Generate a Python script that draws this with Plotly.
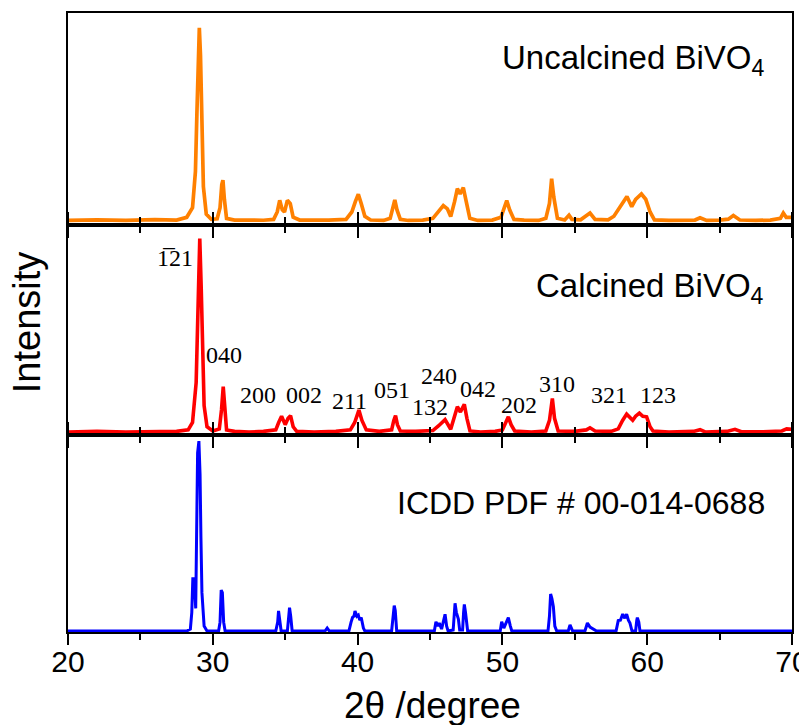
import plotly.graph_objects as go
from plotly.subplots import make_subplots

# 2theta (degree) / intensity (% of panel height)
uncalc_x = [20.0, 22.0, 24.0, 26.0, 27.5, 28.2, 28.6, 28.8, 28.9, 29.0, 29.07, 29.15, 29.25, 29.35, 29.55, 29.9,
            30.3, 30.5, 30.62, 30.7, 30.8, 30.95, 31.5, 32.5, 33.5, 34.2, 34.45, 34.62, 34.8, 34.95, 35.15, 35.35,
            35.55, 36.0, 37.0, 38.0, 39.2, 39.6, 39.85, 40.05, 40.25, 40.5, 40.9, 41.8, 42.25, 42.45, 42.57, 42.72,
            42.95, 43.5, 44.5, 45.2, 45.6, 45.92, 46.2, 46.43, 46.7, 46.89, 47.08, 47.3, 47.5, 47.75, 48.3, 49.3,
            49.9, 50.15, 50.3, 50.5, 50.8, 51.5, 52.5, 53.0, 53.25, 53.4, 53.55, 53.8, 54.3, 54.6, 54.8, 55.4,
            56.05, 56.4, 57.3, 57.7, 58.2, 58.6, 58.93, 59.2, 59.6, 59.9, 60.2, 60.5, 61.5, 62.5, 63.3, 63.65,
            64.1, 65.0, 65.6, 65.95, 66.4, 67.5, 68.5, 69.2, 69.4, 69.6, 70.0]
uncalc_y = [2.0, 2.3, 2.0, 2.4, 2.2, 3.5, 8, 25, 52, 85, 93, 80, 45, 18, 5, 2.5,
            2.8, 8, 19, 21, 12, 3, 2.2, 2.0, 2.1, 2.5, 6, 11.5, 7, 6, 11.5, 10,
            3.5, 2.2, 2.0, 2.2, 2.5, 6, 11, 14.4, 10, 4, 2.2, 2.0, 3, 9, 11.7, 7,
            2.5, 2.0, 2.2, 3, 6, 9, 7.5, 3.8, 11, 17, 14.5, 17.5, 11, 3, 2.0, 2.2,
            3.5, 8, 11.4, 7, 2.5, 2.2, 2.0, 3, 10, 21.7, 13, 3, 2.2, 4.5, 2.5, 2.3,
            5.5, 2.5, 2.3, 4, 9, 13.3, 8.5, 12, 14.5, 12, 6, 2.3, 2.0, 2.2, 2.2, 3.3,
            2.0, 2.2, 2.6, 4.3, 2.2, 2.0, 2.2, 3, 5.5, 3.5, 3.5]

calc_x = [20.0, 22.0, 24.0, 26.0, 27.5, 28.3, 28.6, 28.85, 28.98, 29.1, 29.2, 29.28, 29.4, 29.6, 30.0, 30.45,
          30.6, 30.72, 30.82, 30.95, 31.5, 32.5, 33.5, 34.35, 34.55, 34.75, 35.0, 35.2, 35.37, 35.55, 35.8, 37.0,
          38.5, 39.5, 39.8, 40.09, 40.3, 40.6, 41.5, 42.35, 42.5, 42.62, 42.75, 42.95, 44.0, 45.2, 45.6, 46.04,
          46.43, 46.7, 46.89, 47.1, 47.37, 47.55, 47.76, 48.5, 49.5, 50.0, 50.25, 50.41, 50.6, 50.85, 52.0, 53.0,
          53.25, 53.45, 53.6, 53.85, 55.0, 55.8, 56.05, 56.4, 57.5, 58.0, 58.3, 58.58, 59.0, 59.2, 59.46, 59.7,
          59.96, 60.2, 60.4, 61.5, 63.2, 63.65, 64.0, 65.5, 66.06, 66.5, 68.0, 69.3, 69.63, 70.0]
calc_y = [1.5, 1.8, 1.5, 1.8, 1.8, 2.5, 6, 25, 60, 93.4, 70, 40, 14, 4, 2.0, 3,
          12, 23, 12, 2.5, 1.8, 1.5, 1.8, 2.5, 6, 9, 5, 8, 9.3, 4, 1.8, 1.5,
          1.8, 2.5, 6, 11.9, 7, 2.5, 1.8, 2.5, 7, 9.3, 5, 2.0, 1.8, 2.2, 4.5, 7.4,
          2.8, 9, 13.5, 11, 14.6, 8, 2.0, 1.5, 1.8, 2.5, 6, 8.7, 5, 2.0, 1.5, 2.0,
          7, 17.4, 8, 2.0, 1.8, 2.5, 3.5, 2.0, 1.8, 3, 7, 10, 7.1, 9, 10.5, 9,
          8.7, 4, 2.0, 1.5, 1.8, 2.6, 1.5, 1.8, 2.8, 1.6, 1.6, 2.0, 3, 2.8]

icdd_x = [20.0, 28.2, 28.45, 28.55, 28.62, 28.72, 28.82, 28.88, 28.95, 29.04, 29.12, 29.18, 29.25, 29.4, 29.6,
          30.4, 30.5, 30.58, 30.66, 30.75, 30.85, 34.35, 34.48, 34.54, 34.62, 34.72, 35.15, 35.22, 35.3, 35.38,
          35.48, 37.75, 37.9, 38.05, 39.4, 39.55, 39.65, 39.75, 39.82, 39.95, 40.05, 40.15, 40.25, 40.4, 40.5,
          42.35, 42.45, 42.53, 42.6, 42.7, 45.3, 45.41, 45.55, 45.64, 45.8, 45.95, 46.04, 46.15, 46.25, 46.6,
          46.68, 46.73, 46.82, 46.96, 47.05, 47.25, 47.32, 47.37, 47.45, 47.53, 47.6, 49.85, 49.95, 50.1, 50.3,
          50.41, 50.55, 50.65, 53.15, 53.25, 53.33, 53.42, 53.52, 53.62, 53.75, 54.55, 54.67, 54.85, 55.7, 55.87,
          56.05, 56.28, 56.5, 57.85, 58.0, 58.15, 58.31, 58.45, 58.58, 58.7, 58.81, 58.95, 59.2, 59.28, 59.32,
          59.42, 59.5, 70.0]
icdd_y = [0.5, 0.5, 1.5, 10, 27, 27, 12, 60, 91, 97, 80, 48, 20, 3, 0.5,
          0.5, 5, 21.3, 20, 5, 0.5, 0.5, 5, 10.7, 7, 0.5, 0.5, 8, 12.4, 8,
          0.5, 0.5, 2, 0.5, 0.5, 5, 7.4, 8, 10.7, 8, 8.6, 6, 7.4, 2, 0.5,
          0.5, 8, 13.4, 11, 0.5, 0.5, 5.2, 3, 4.5, 1.5, 6, 9, 3, 0.5, 1,
          10, 14.6, 10, 6.6, 1, 1, 10, 14, 10, 5.8, 0.5, 0.5, 5.2, 2, 5,
          7.3, 3, 0.5, 0.5, 8, 19.3, 17, 12.9, 3, 0.5, 0.5, 3.6, 0.5, 0.5, 4.6,
          2.5, 1.5, 0.5, 0.5, 5.8, 6, 9.1, 7, 9.1, 6, 4.5, 0.5, 0.5, 6, 7.3,
          5, 0.5, 0.5]

# hkl labels of the calcined pattern
hkl_text = ['1\u030521', '040', '200', '002', '211', '051', '240', '132', '042', '202', '310', '321', '123']
hkl_x = [27.4, 30.77, 33.1, 36.3, 39.47, 42.35, 45.64, 45.0, 48.34, 51.17, 53.8, 57.38, 60.77]
hkl_y = [84.4, 38, 19, 19, 16, 21.4, 28, 13.2, 21.7, 14.3, 24.5, 19, 19]

fig = make_subplots(rows=3, cols=1, shared_xaxes=True, vertical_spacing=0,
                    row_heights=[0.342, 0.340, 0.318])

fig.add_scatter(x=uncalc_x, y=uncalc_y, mode='lines', line=dict(color='#FF8000', width=3.7),
                showlegend=False, row=1, col=1)
fig.add_scatter(x=calc_x, y=calc_y, mode='lines', line=dict(color='#FF0000', width=3.6),
                showlegend=False, row=2, col=1)
fig.add_scatter(x=icdd_x, y=icdd_y, mode='lines', line=dict(color='#0000FF', width=3),
                showlegend=False, row=3, col=1)

sans = 'Liberation Sans, Arial, sans-serif'
serif = 'Liberation Serif, Times New Roman, serif'

for r in [1, 2, 3]:
    fig.update_xaxes(range=[20, 70], showline=True, linecolor='black', linewidth=2,
                     ticks='outside', ticklen=11, tickwidth=2, tickcolor='black',
                     dtick=10, tick0=20, showgrid=False, zeroline=False, automargin=False,
                     minor=dict(dtick=5, ticklen=6, tickwidth=2, tickcolor='black', ticks='outside'),
                     mirror='ticks' if r > 1 else True,
                     showticklabels=(r == 3), row=r, col=1)
    fig.update_yaxes(range=[0, 100], showline=True, linecolor='black', linewidth=2, mirror=True,
                     ticks='', showticklabels=False, showgrid=False, zeroline=False, automargin=False,
                     row=r, col=1)

fig.update_xaxes(tickfont=dict(family=sans, size=30, color='black'), ticklabeloverflow='allow',
                 ticklabelstandoff=-9, row=3, col=1)

ann = []
ann.append(dict(text='Uncalcined BiVO<sub>4</sub>', x=68.2, y=78, xref='x', yref='y',
                xanchor='right', yanchor='middle', showarrow=False,
                font=dict(family=sans, size=33, color='black')))
ann.append(dict(text='Calcined BiVO<sub>4</sub>', x=68.2, y=70, xref='x2', yref='y2',
                xanchor='right', yanchor='middle', showarrow=False,
                font=dict(family=sans, size=33, color='black')))
ann.append(dict(text='ICDD PDF # 00-014-0688', x=68.3, y=65.5, xref='x3', yref='y3',
                xanchor='right', yanchor='middle', showarrow=False,
                font=dict(family=sans, size=32, color='black')))
for t, hx, hy in zip(hkl_text, hkl_x, hkl_y):
    ann.append(dict(text=t, x=hx, y=hy, xref='x2', yref='y2', xanchor='center', yanchor='middle',
                    showarrow=False, font=dict(family=serif, size=24, color='black')))
ann.append(dict(text='Intensity', x=-0.057, y=0.5, xref='paper', yref='paper', textangle=-90,
                xanchor='center', yanchor='middle', showarrow=False,
                font=dict(family=sans, size=38, color='black')))
ann.append(dict(text='2\u03b8 /degree', x=0.504, y=-0.1195, xref='paper', yref='paper',
                xanchor='center', yanchor='middle', showarrow=False,
                font=dict(family=sans, size=37, color='black')))

# page body has an 8px margin, so the figure is drawn 8px smaller
fig.update_layout(width=799, height=717, margin=dict(l=60, r=15, t=5, b=93, autoexpand=False),
                  paper_bgcolor='white', plot_bgcolor='white', annotations=ann)

fig.write_html('out.html')
